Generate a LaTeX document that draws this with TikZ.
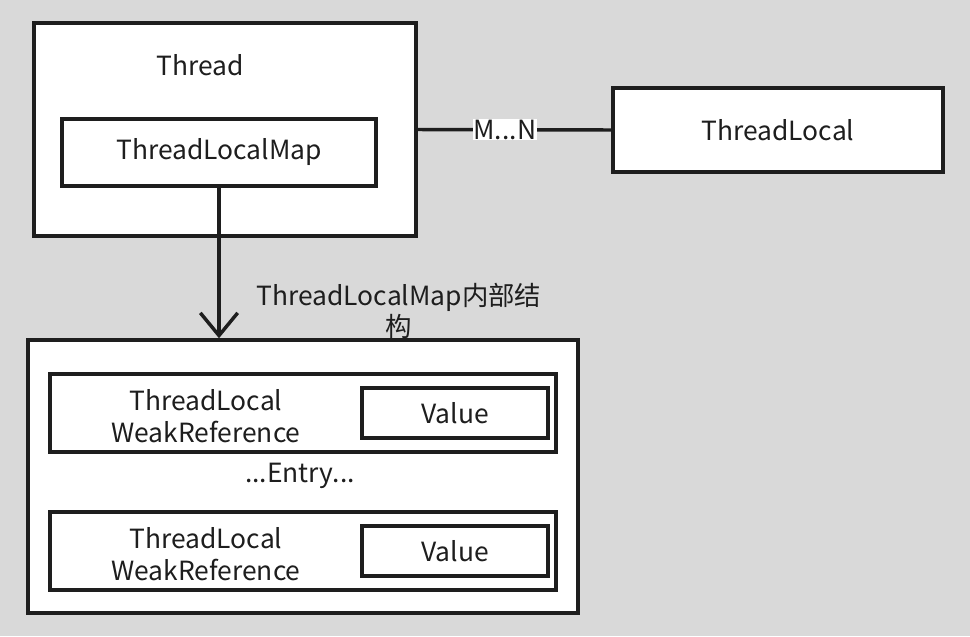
\documentclass[tikz,border=0pt]{standalone}
\usepackage{fontspec}
\setmainfont{Noto Sans CJK SC}
\usetikzlibrary{arrows.meta}
\definecolor{bggray}{RGB}{217,217,217}
\definecolor{ink}{RGB}{30,30,30}
\begin{document}
\begin{tikzpicture}[x=0.75pt,y=-0.75pt,
  box/.style={draw=ink,fill=white,line width=2.6pt,inner sep=0pt},
  txt/.style={text=ink,font=\fontsize{19.8}{23.5}\selectfont,inner sep=1pt,align=center}]
 \fill[bggray] (0,0) rectangle (970,636);
 \useasboundingbox (0,0) rectangle (970,636);
 % Thread with its map
 \node[box,minimum width=286.5pt,minimum height=159.75pt] (thread) at (225,129.5) {};
 \node[txt] (threadlbl) at (200,65) {Thread};
 \node[box,txt,line width=2.6pt,inner sep=0pt,minimum width=235.5pt,minimum height=50.25pt]
   (tlmap) at (219,152.5) {ThreadLocalMap};
 \node[box,txt,line width=2.6pt,inner sep=0pt,minimum width=247.5pt,minimum height=63pt]
   (tl) at (778,130) {ThreadLocal};
 \draw[ink,line width=2.6pt] (thread.east) -- (tl.west)
   node[pos=0.45,fill=white,txt,inner sep=0.5pt] (mn) {M...N};
 % inner structure
 \node[box,minimum width=412.5pt,minimum height=204.75pt] (map) at (303,476.5) {};
 \draw[ink,line width=2.6pt,-{Straight Barb[length=17pt,width=28pt]}]
   (tlmap.south) -- (tlmap.south |- map.north);
 \node[txt] (maplbl) at (399,311) {ThreadLocalMap内部结\\构};
 \node[box,minimum width=379.5pt,minimum height=58.5pt] (entrya) at (303,413) {};
 \node[txt] (refa) at (206,416) {ThreadLocal\\WeakReference};
 \node[box,txt,line width=2.6pt,inner sep=0pt,minimum width=139.5pt,minimum height=37.5pt]
   (vala) at (455,413) {Value};
 \node[txt] (dots) at (300,476) {...Entry...};
 \node[box,minimum width=379.5pt,minimum height=58.5pt] (entryb) at (303,551) {};
 \node[txt] (refb) at (206,554) {ThreadLocal\\WeakReference};
 \node[box,txt,line width=2.6pt,inner sep=0pt,minimum width=139.5pt,minimum height=37.5pt]
   (valb) at (455,551) {Value};
\end{tikzpicture}
\end{document}
